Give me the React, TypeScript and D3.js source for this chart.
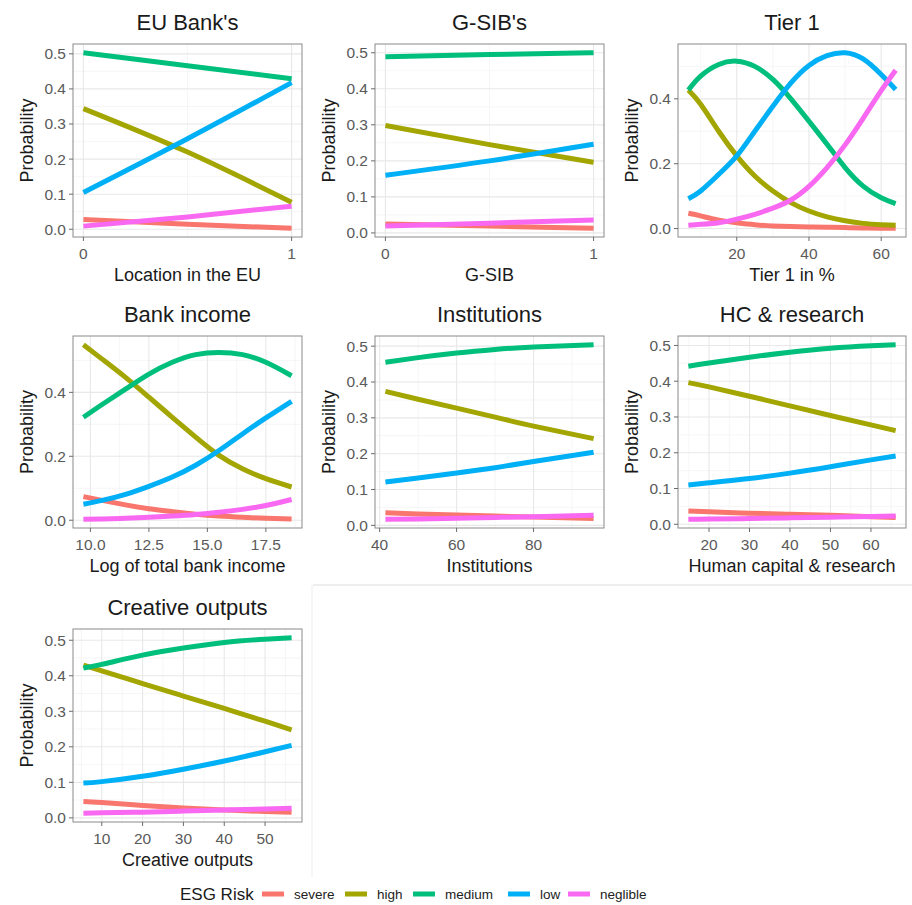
import React from 'react';
import * as d3 from 'd3';

// ---- data ----
const seriesNames = ['severe', 'high', 'medium', 'low', 'neglible'];
const seriesColors = ['#F8766D', '#A3A500', '#00BF7D', '#00B0F6', '#F868F1'];

// EU Bank's
const euX = [0, 0.5, 1];
const euSevere = [0.028, 0.014, 0.003];
const euHigh = [0.344, 0.22, 0.077];
const euMedium = [0.503, 0.466, 0.429];
const euLow = [0.105, 0.258, 0.418];
const euNeglible = [0.009, 0.035, 0.066];

// G-SIB's
const gsX = [0, 0.5, 1];
const gsSevere = [0.025, 0.019, 0.013];
const gsHigh = [0.298, 0.245, 0.196];
const gsMedium = [0.489, 0.495, 0.5];
const gsLow = [0.16, 0.2, 0.246];
const gsNeglible = [0.019, 0.027, 0.036];

// Tier 1
const t1X = [6.6, 10, 15, 20, 25, 30, 35, 40, 45, 50, 55, 60, 64];
const t1Severe = [0.047, 0.039, 0.026, 0.018, 0.012, 0.008, 0.006, 0.005, 0.004, 0.003, 0.002, 0.001, 0.001];
const t1High = [0.427, 0.383, 0.3, 0.224, 0.162, 0.116, 0.08, 0.054, 0.036, 0.024, 0.016, 0.012, 0.01];
const t1Medium = [0.427, 0.47, 0.506, 0.516, 0.5, 0.46, 0.4, 0.331, 0.26, 0.188, 0.131, 0.095, 0.077];
const t1Low = [0.092, 0.116, 0.167, 0.224, 0.3, 0.377, 0.449, 0.503, 0.533, 0.542, 0.523, 0.475, 0.429];
const t1Neglible = [0.01, 0.013, 0.018, 0.029, 0.044, 0.063, 0.088, 0.13, 0.188, 0.258, 0.34, 0.425, 0.488];

// Bank income
const biX = [9.7, 10.5, 11.5, 12.5, 13.5, 14.5, 15.5, 16.5, 17.5, 18.6];
const biSevere = [0.074, 0.062, 0.048, 0.036, 0.027, 0.019, 0.013, 0.009, 0.006, 0.004];
const biHigh = [0.549, 0.504, 0.447, 0.385, 0.322, 0.26, 0.203, 0.161, 0.13, 0.104];
const biMedium = [0.322, 0.362, 0.41, 0.457, 0.494, 0.518, 0.525, 0.518, 0.494, 0.452];
const biLow = [0.05, 0.062, 0.081, 0.106, 0.135, 0.172, 0.218, 0.27, 0.32, 0.372];
const biNeglible = [0.003, 0.004, 0.006, 0.009, 0.013, 0.018, 0.025, 0.034, 0.046, 0.065];

// Institutions
const inX = [41.5, 50, 60, 70, 80, 95.6];
const inSevere = [0.035, 0.032, 0.029, 0.026, 0.023, 0.019];
const inHigh = [0.374, 0.352, 0.327, 0.302, 0.277, 0.242];
const inMedium = [0.455, 0.468, 0.481, 0.491, 0.498, 0.504];
const inLow = [0.121, 0.132, 0.146, 0.161, 0.178, 0.204];
const inNeglible = [0.017, 0.018, 0.02, 0.022, 0.024, 0.028];

// HC & research
const hcX = [14.9, 20, 30, 40, 50, 60, 66.1];
const hcSevere = [0.037, 0.035, 0.031, 0.028, 0.025, 0.021, 0.019];
const hcHigh = [0.396, 0.384, 0.358, 0.331, 0.304, 0.278, 0.262];
const hcMedium = [0.442, 0.451, 0.467, 0.481, 0.492, 0.499, 0.502];
const hcLow = [0.11, 0.116, 0.128, 0.143, 0.161, 0.18, 0.191];
const hcNeglible = [0.014, 0.015, 0.016, 0.018, 0.02, 0.022, 0.023];

// Creative outputs
const coX = [5.5, 10, 20, 30, 40, 50, 56.5];
const coSevere = [0.046, 0.043, 0.035, 0.028, 0.022, 0.018, 0.016];
const coHigh = [0.43, 0.414, 0.378, 0.343, 0.308, 0.272, 0.248];
const coMedium = [0.422, 0.432, 0.458, 0.478, 0.494, 0.503, 0.507];
const coLow = [0.098, 0.102, 0.117, 0.137, 0.16, 0.186, 0.204];
const coNeglible = [0.013, 0.014, 0.016, 0.019, 0.022, 0.025, 0.027];

// ticks
const yTicksFine = [0, 0.1, 0.2, 0.3, 0.4, 0.5];
const yTicksCoarse = [0, 0.2, 0.4];
const binaryTicks = [0, 1];
const t1Ticks = [20, 40, 60];
const biTicks = [10, 12.5, 15, 17.5];
const inTicks = [40, 60, 80];
const decadeTicks = [10, 20, 30, 40, 50, 60];

// ---- layout ----
const W = 912;
const H = 905;
const colLeft = [73, 375, 678];
const colRight = [302, 604, 906];
const rowTop = [44, 336, 629];
const rowBottom = [237, 528, 822];
const FONT = '"Liberation Sans", Arial, Helvetica, sans-serif';

const panels = [
  { title: "EU Bank's", xLabel: 'Location in the EU', x: euX, ys: [euSevere, euHigh, euMedium, euLow, euNeglible], xTicks: binaryTicks, xMinor: [0.5], xFmt: d3.format('d'), yTicks: yTicksFine, col: 0, row: 0 },
  { title: "G-SIB's", xLabel: 'G-SIB', x: gsX, ys: [gsSevere, gsHigh, gsMedium, gsLow, gsNeglible], xTicks: binaryTicks, xMinor: [0.5], xFmt: d3.format('d'), yTicks: yTicksFine, col: 1, row: 0 },
  { title: 'Tier 1', xLabel: 'Tier 1 in %', x: t1X, ys: [t1Severe, t1High, t1Medium, t1Low, t1Neglible], xTicks: t1Ticks, xFmt: d3.format('d'), yTicks: yTicksCoarse, col: 2, row: 0 },
  { title: 'Bank income', xLabel: 'Log of total bank income', x: biX, ys: [biSevere, biHigh, biMedium, biLow, biNeglible], xTicks: biTicks, xFmt: d3.format('.1f'), yTicks: yTicksCoarse, col: 0, row: 1 },
  { title: 'Institutions', xLabel: 'Institutions', x: inX, ys: [inSevere, inHigh, inMedium, inLow, inNeglible], xTicks: inTicks, xFmt: d3.format('d'), yTicks: yTicksFine, col: 1, row: 1 },
  { title: 'HC & research', xLabel: 'Human capital & research', x: hcX, ys: [hcSevere, hcHigh, hcMedium, hcLow, hcNeglible], xTicks: decadeTicks, xFmt: d3.format('d'), yTicks: yTicksFine, col: 2, row: 1 },
  { title: 'Creative outputs', xLabel: 'Creative outputs', x: coX, ys: [coSevere, coHigh, coMedium, coLow, coNeglible], xTicks: decadeTicks, xFmt: d3.format('d'), yTicks: yTicksFine, col: 0, row: 2 },
];

// ggplot style 5% expansion
const expand = (lo: number, hi: number) => {
  const pad = (hi - lo) * 0.05;
  return [lo - pad, hi + pad];
};

// minor breaks halfway between majors, one step beyond each end too
const minorBreaks = (ticks: number[], domain: number[]) => {
  if (ticks.length < 2) return [];
  const step = ticks[1] - ticks[0];
  const out: number[] = [];
  for (let v = ticks[0] - step / 2; v <= ticks[ticks.length - 1] + step / 2 + 1e-9; v += step) {
    if (v >= domain[0] && v <= domain[1]) out.push(v);
  }
  return out;
};

const Panel = ({ p }: { p: any }) => {
  const left = colLeft[p.col];
  const right = colRight[p.col];
  const top = rowTop[p.row];
  const bottom = rowBottom[p.row];

  const allY = p.ys.flat();
  const xDom = expand(d3.min(p.x) as number, d3.max(p.x) as number);
  const yDom = expand(d3.min(allY) as number, d3.max(allY) as number);

  const xScale = d3.scaleLinear().domain(xDom).range([left, right]);
  const yScale = d3.scaleLinear().domain(yDom).range([bottom, top]);

  const xTicks = p.xTicks.filter((t: number) => t >= xDom[0] && t <= xDom[1]);
  const yTicks = p.yTicks.filter((t: number) => t >= yDom[0] && t <= yDom[1]);
  const xMinor = p.xMinor ?? minorBreaks(p.xTicks, xDom);
  const yMinor = minorBreaks(p.yTicks, yDom);

  const line = d3
    .line<[number, number]>()
    .x(d => xScale(d[0]))
    .y(d => yScale(d[1]))
    .curve(d3.curveNatural);

  const clipId = `clip-${p.col}-${p.row}`;
  const cx = (left + right) / 2;
  const cy = (top + bottom) / 2;

  return (
    <g>
      <defs>
        <clipPath id={clipId}>
          <rect x={left} y={top} width={right - left} height={bottom - top} />
        </clipPath>
      </defs>

      {/* grid */}
      {yMinor.map((v: number, i: number) => (
        <line key={`ym${i}`} x1={left} x2={right} y1={yScale(v)} y2={yScale(v)} stroke="#F2F2F2" strokeWidth={0.7} />
      ))}
      {xMinor.map((v: number, i: number) => (
        <line key={`xm${i}`} y1={top} y2={bottom} x1={xScale(v)} x2={xScale(v)} stroke="#F2F2F2" strokeWidth={0.7} />
      ))}
      {yTicks.map((v: number, i: number) => (
        <line key={`yg${i}`} x1={left} x2={right} y1={yScale(v)} y2={yScale(v)} stroke="#E8E8E8" strokeWidth={1.1} />
      ))}
      {xTicks.map((v: number, i: number) => (
        <line key={`xg${i}`} y1={top} y2={bottom} x1={xScale(v)} x2={xScale(v)} stroke="#E8E8E8" strokeWidth={1.1} />
      ))}

      {/* curves */}
      <g clipPath={`url(#${clipId})`}>
        {p.ys.map((ys: number[], si: number) => (
          <path
            key={seriesNames[si]}
            d={line(p.x.map((xv: number, k: number) => [xv, ys[k]] as [number, number])) || ''}
            fill="none"
            stroke={seriesColors[si]}
            strokeWidth={5}
          />
        ))}
      </g>

      <rect x={left} y={top} width={right - left} height={bottom - top} fill="none" stroke="#8a8a8a" strokeWidth={1} />

      {/* y axis */}
      {yTicks.map((v: number, i: number) => (
        <g key={`yt${i}`}>
          <line x1={left - 4} x2={left} y1={yScale(v)} y2={yScale(v)} stroke="#6b6b6b" strokeWidth={1} />
          <text x={left - 7} y={yScale(v)} dy="0.35em" textAnchor="end" fontSize={15.5} fill="#5a5a5a" fontFamily={FONT}>
            {d3.format('.1f')(v)}
          </text>
        </g>
      ))}

      {/* x axis */}
      {xTicks.map((v: number, i: number) => (
        <g key={`xt${i}`}>
          <line x1={xScale(v)} x2={xScale(v)} y1={bottom} y2={bottom + 4} stroke="#6b6b6b" strokeWidth={1} />
          <text x={xScale(v)} y={bottom + 17} dy="0.35em" textAnchor="middle" fontSize={15.5} fill="#5a5a5a" fontFamily={FONT}>
            {p.xFmt(v)}
          </text>
        </g>
      ))}

      <text x={cx} y={bottom + 38} dy="0.35em" textAnchor="middle" fontSize={18} fill="#1a1a1a" fontFamily={FONT}>
        {p.xLabel}
      </text>
      <text
        transform={`translate(${left - 46},${cy}) rotate(-90)`}
        dy="0.35em"
        textAnchor="middle"
        fontSize={18}
        fill="#1a1a1a"
        fontFamily={FONT}
      >
        Probability
      </text>
      <text x={cx} y={top - 14} textAnchor="middle" fontSize={22} fill="#1a1a1a" fontFamily={FONT}>
        {p.title}
      </text>
    </g>
  );
};

// legend layout
const legendKeyX = [262, 345, 413, 508, 568];
const legendY = 894;

export default function App() {
  return (
    <svg
      width={W}
      height={H}
      viewBox={`0 0 ${W} ${H}`}
      style={{ position: 'absolute', left: 0, top: 0, background: '#fff' }}
    >
      <rect width={W} height={H} fill="#fff" />

      {/* faint seams of the stitched figure */}
      <line x1={313} x2={W} y1={585} y2={585} stroke="#DCDCDC" strokeWidth={1} />
      <line x1={312} x2={312} y1={585} y2={877} stroke="#EDEDED" strokeWidth={1} />

      {panels.map((p, i) => (
        <Panel key={i} p={p} />
      ))}

      {/* legend */}
      <text x={180} y={legendY} dy="0.35em" fontSize={17} fill="#1a1a1a" fontFamily={FONT}>
        ESG Risk
      </text>
      {seriesNames.map((name, i) => (
        <g key={name}>
          <line x1={legendKeyX[i]} x2={legendKeyX[i] + 22} y1={legendY} y2={legendY} stroke={seriesColors[i]} strokeWidth={5} />
          <text x={legendKeyX[i] + 32} y={legendY} dy="0.35em" fontSize={13.5} fill="#222" fontFamily={FONT}>
            {name}
          </text>
        </g>
      ))}
    </svg>
  );
}
